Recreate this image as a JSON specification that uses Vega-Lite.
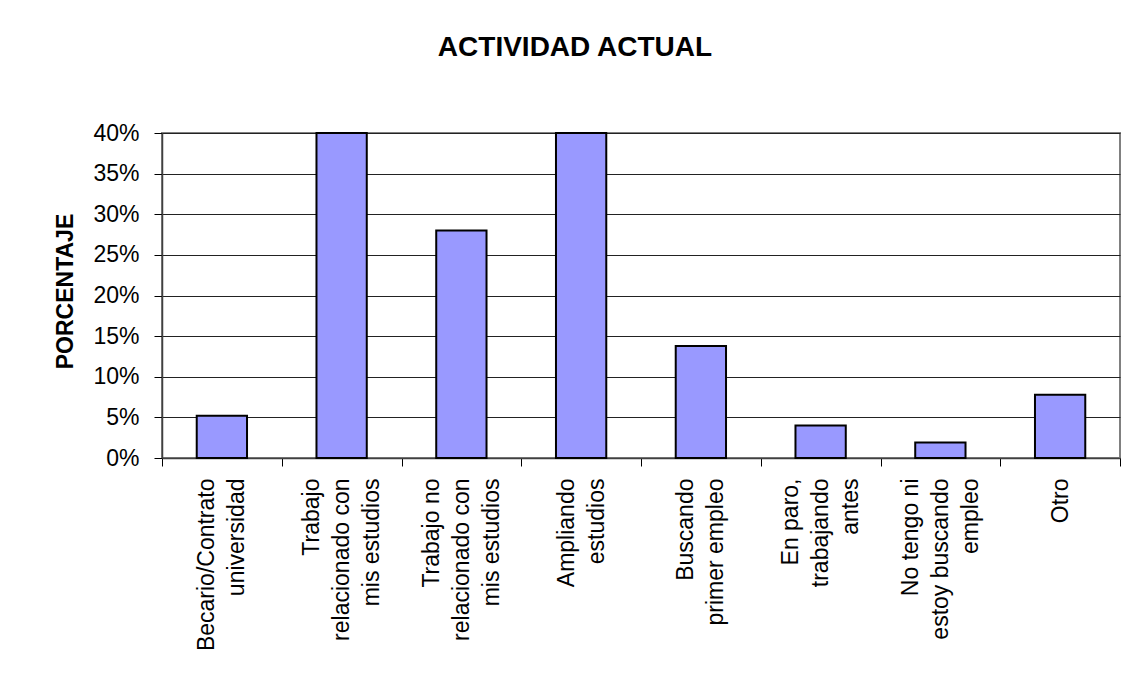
{
  "$schema": "https://vega.github.io/schema/vega-lite/v6.json",
  "width": 958,
  "height": 325,
  "autosize": {"type": "none"},
  "padding": {"left": 162, "top": 133, "right": 13, "bottom": 224},
  "background": "white",
  "title": {
    "text": "ACTIVIDAD ACTUAL",
    "font": "Liberation Sans",
    "fontSize": 28,
    "fontWeight": "bold",
    "color": "black",
    "anchor": "middle",
    "frame": "group",
    "baseline": "alphabetic",
    "dx": -66,
    "offset": 38
  },
  "data": {
    "values": [
      {"actividad": "Becario/Contrato\nuniversidad", "porcentaje": 0.052},
      {"actividad": "Trabajo\nrelacionado con\nmis estudios", "porcentaje": 0.44},
      {"actividad": "Trabajo no\nrelacionado con\nmis estudios", "porcentaje": 0.28},
      {"actividad": "Ampliando\nestudios", "porcentaje": 0.42},
      {"actividad": "Buscando\nprimer empleo", "porcentaje": 0.138},
      {"actividad": "En paro,\ntrabajando\nantes", "porcentaje": 0.04},
      {"actividad": "No tengo ni\nestoy buscando\nempleo", "porcentaje": 0.019},
      {"actividad": "Otro", "porcentaje": 0.078}
    ]
  },
  "mark": {
    "type": "bar",
    "fill": "#9999FF",
    "stroke": "black",
    "strokeWidth": 2,
    "width": {"band": 0.42}
  },
  "encoding": {
    "x": {
      "field": "actividad",
      "type": "nominal",
      "sort": null,
      "scale": {"paddingInner": 0, "paddingOuter": 0},
      "axis": {
        "title": null,
        "labelAngle": -90,
        "labelAlign": "right",
        "labelBaseline": "middle",
        "labelExpr": "split(datum.label, '\\n')",
        "labelLineHeight": 30,
        "labelFont": "Liberation Sans",
        "labelFontSize": 23,
        "labelColor": "black",
        "labelLimit": 0,
        "labelPadding": 12,
        "labelOffset": {
          "condition": [
            {"test": "length(split(datum.value, '\\n')) == 3", "value": -30},
            {"test": "length(split(datum.value, '\\n')) == 2", "value": -15}
          ],
          "value": 0
        },
        "tickBand": "extent",
        "tickSize": 8,
        "tickColor": "black",
        "tickWidth": 1,
        "domainColor": "#404040",
        "domainWidth": 1.5,
        "grid": false
      }
    },
    "y": {
      "field": "porcentaje",
      "type": "quantitative",
      "scale": {"domain": [0, 0.4], "nice": false, "clamp": true},
      "axis": {
        "title": "PORCENTAJE",
        "titleFont": "Liberation Sans",
        "titleFontSize": 23,
        "titleFontWeight": "bold",
        "titleColor": "black",
        "titleAngle": -90,
        "titleX": -97,
        "titleY": 158,
        "titleAlign": "center",
        "titleBaseline": "middle",
        "values": [0, 0.05, 0.1, 0.15, 0.2, 0.25, 0.3, 0.35, 0.4],
        "format": ".0%",
        "labelFont": "Liberation Sans",
        "labelFontSize": 23,
        "labelColor": "black",
        "labelPadding": 15,
        "tickSize": 8,
        "tickColor": "black",
        "tickWidth": 1,
        "domainColor": "#404040",
        "domainWidth": 1.5,
        "grid": true,
        "gridColor": "#222222",
        "gridWidth": 1
      }
    }
  },
  "config": {
    "view": {"stroke": "#808080", "strokeWidth": 2}
  }
}
